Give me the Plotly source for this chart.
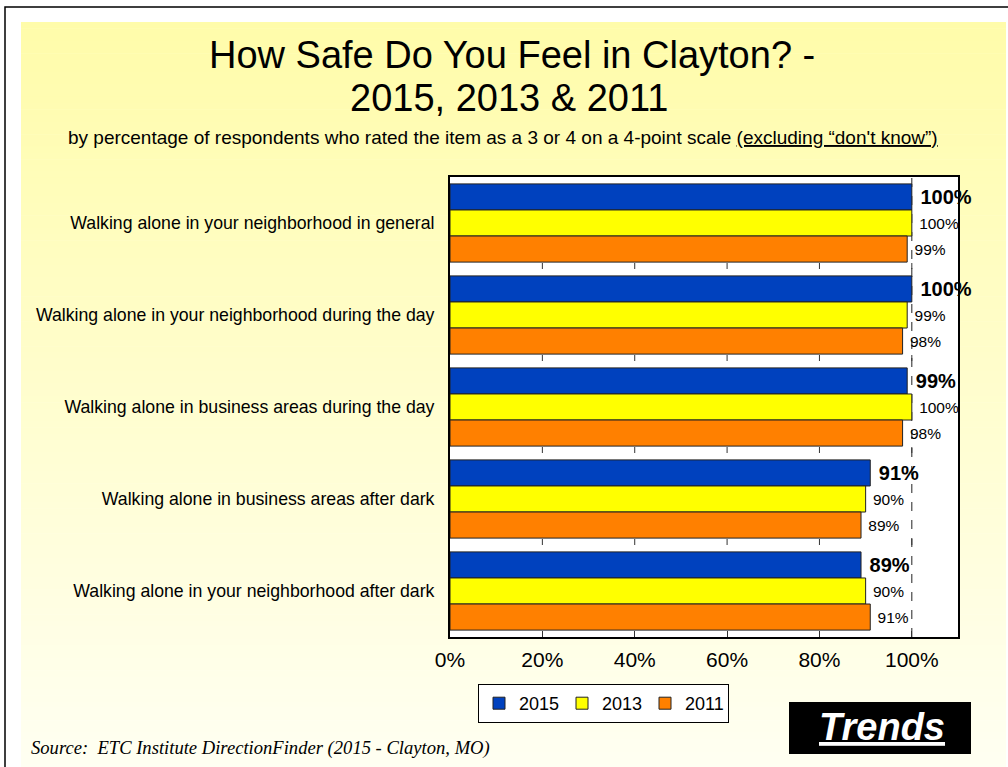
import plotly.graph_objects as go

categories = [
    "Walking alone in your neighborhood in general",
    "Walking alone in your neighborhood during the day",
    "Walking alone in business areas during the day",
    "Walking alone in business areas after dark",
    "Walking alone in your neighborhood after dark",
]
years = ["2015", "2013", "2011"]
v2015 = [100, 100, 99, 91, 89]
v2013 = [100, 99, 100, 90, 90]
v2011 = [99, 98, 98, 89, 91]
colors = ["#0041BE", "#FFFF00", "#FF8000"]
tick_vals = [0, 20, 40, 60, 80, 100]
tick_text = ["0%", "20%", "40%", "60%", "80%", "100%"]

W, H = 1008, 767
L, R, T, B = 450, 50, 177, 130
PW, PH = W - L - R, H - T - B
PB = H - B
SANS = "Liberation Sans, Arial, sans-serif"


def px(x):
    return (x - L) / PW


def py(y):
    return (PB - y) / PH


fig = go.Figure()
series = [v2015, v2013, v2011]
for i, (yr, vals, col) in enumerate(zip(years, series, colors)):
    bold = i == 0
    fig.add_trace(go.Bar(
        name=yr, y=categories, x=vals, orientation="h",
        marker=dict(color=col, line=dict(color="#222222", width=1)),
        text=[f"\u00a0<b>{v}%</b>" if bold else f"\u00a0{v}%" for v in vals],
        textposition="outside", cliponaxis=False, constraintext="none",
        textfont=dict(size=20 if bold else 15.5, color="black", family=SANS),
    ))

shapes = []
# gradient background
N = 120
top_c = (255, 252, 170)
bot_c = (255, 255, 242)
y0, y1 = 22, 770
for k in range(N):
    t = k / (N - 1)
    c = tuple(round(top_c[j] + (bot_c[j] - top_c[j]) * t) for j in range(3))
    ya = y0 + (y1 - y0) * k / N
    yb = y0 + (y1 - y0) * (k + 1) / N + 0.6
    shapes.append(dict(type="rect", xref="paper", yref="paper",
                       x0=px(21), x1=px(1006), y0=py(ya), y1=py(yb),
                       fillcolor="rgb(%d,%d,%d)" % c, line=dict(width=0),
                       layer="below"))
# outer border
shapes.append(dict(type="rect", xref="paper", yref="paper",
                   x0=px(5), x1=px(1015), y0=py(7), y1=py(775),
                   line=dict(color="black", width=1.5), layer="below"))
# white plot area
shapes.append(dict(type="rect", xref="x domain", yref="y domain",
                   x0=0, x1=1, y0=0, y1=1, fillcolor="white",
                   line=dict(width=0), layer="below"))
# dashed 100% line
shapes.append(dict(type="line", xref="x", yref="y domain", x0=100, x1=100,
                   y0=0, y1=1, line=dict(color="#222222", width=1, dash="dash"),
                   layer="below"))
# small tick marks at category boundaries
tick_len = 6 / 92
for b in range(len(categories) - 1):
    yb = b + 0.5
    for tv in tick_vals[1:]:
        shapes.append(dict(type="line", xref="x", yref="y", x0=tv, x1=tv,
                           y0=yb, y1=yb - tick_len,
                           line=dict(color="#333333", width=1), layer="below"))
# Trends box
shapes.append(dict(type="rect", xref="paper", yref="paper",
                   x0=px(789), x1=px(971), y0=py(702), y1=py(754),
                   fillcolor="black", line=dict(width=0)))

annotations = [
    dict(text="How Safe Do You Feel in Clayton? -",
         xref="paper", yref="paper", x=px(512), y=py(55), showarrow=False,
         xanchor="center", yanchor="middle",
         font=dict(size=38, color="black", family=SANS)),
    dict(text="2015, 2013 & 2011",
         xref="paper", yref="paper", x=px(509), y=py(98), showarrow=False,
         xanchor="center", yanchor="middle",
         font=dict(size=38, color="black", family=SANS)),
    dict(text="by percentage of respondents who rated the item as a 3 or 4 on a 4-point scale "
              "<u>(excluding \u201cdon't know\u201d)</u>",
         xref="paper", yref="paper", x=px(503), y=py(137), showarrow=False,
         xanchor="center", yanchor="middle",
         font=dict(size=19, color="black", family=SANS)),
    dict(text="<i>Source:  ETC Institute DirectionFinder (2015 - Clayton, MO)</i>",
         xref="paper", yref="paper", x=px(29), y=py(748), showarrow=False,
         xanchor="left", yanchor="middle",
         font=dict(size=18.6, color="black", family="Liberation Serif, Times New Roman, serif")),
    dict(text="<b><i><u>Trends</u></i></b>",
         xref="paper", yref="paper", x=px(882), y=py(727), showarrow=False,
         xanchor="center", yanchor="middle",
         font=dict(size=38, color="white", family=SANS)),
]

fig.update_layout(
    width=W, height=H,
    margin=dict(l=L, r=R, t=T, b=B, pad=0),
    paper_bgcolor="white", plot_bgcolor="rgba(0,0,0,0)",
    barmode="group", bargap=0.15, bargroupgap=0,
    font=dict(family=SANS, color="black"),
    shapes=shapes, annotations=annotations,
    showlegend=True,
    legend=dict(orientation="h", x=px(478), y=py(684), xanchor="left", yanchor="top",
                bgcolor="white", bordercolor="black", borderwidth=1,
                font=dict(size=18, color="black"), traceorder="normal",
                entrywidth=38, itemwidth=30, tracegroupgap=0),
    xaxis=dict(range=[0, 110], tickvals=tick_vals, ticktext=tick_text,
               ticks="inside", ticklen=6, tickcolor="#333333",
               showgrid=False, zeroline=False, showline=True, mirror=True,
               linecolor="black", linewidth=2, ticklabelstandoff=3,
               tickfont=dict(size=21, color="black")),
    yaxis=dict(autorange="reversed", showgrid=False, zeroline=False,
               showline=True, mirror=True, linecolor="black", linewidth=2,
               ticks="", ticklabelstandoff=10,
               tickfont=dict(size=17.7, color="black")),
)

fig.write_html("out.html", config={"displayModeBar": False},
               post_script="document.body.style.margin='0';")
